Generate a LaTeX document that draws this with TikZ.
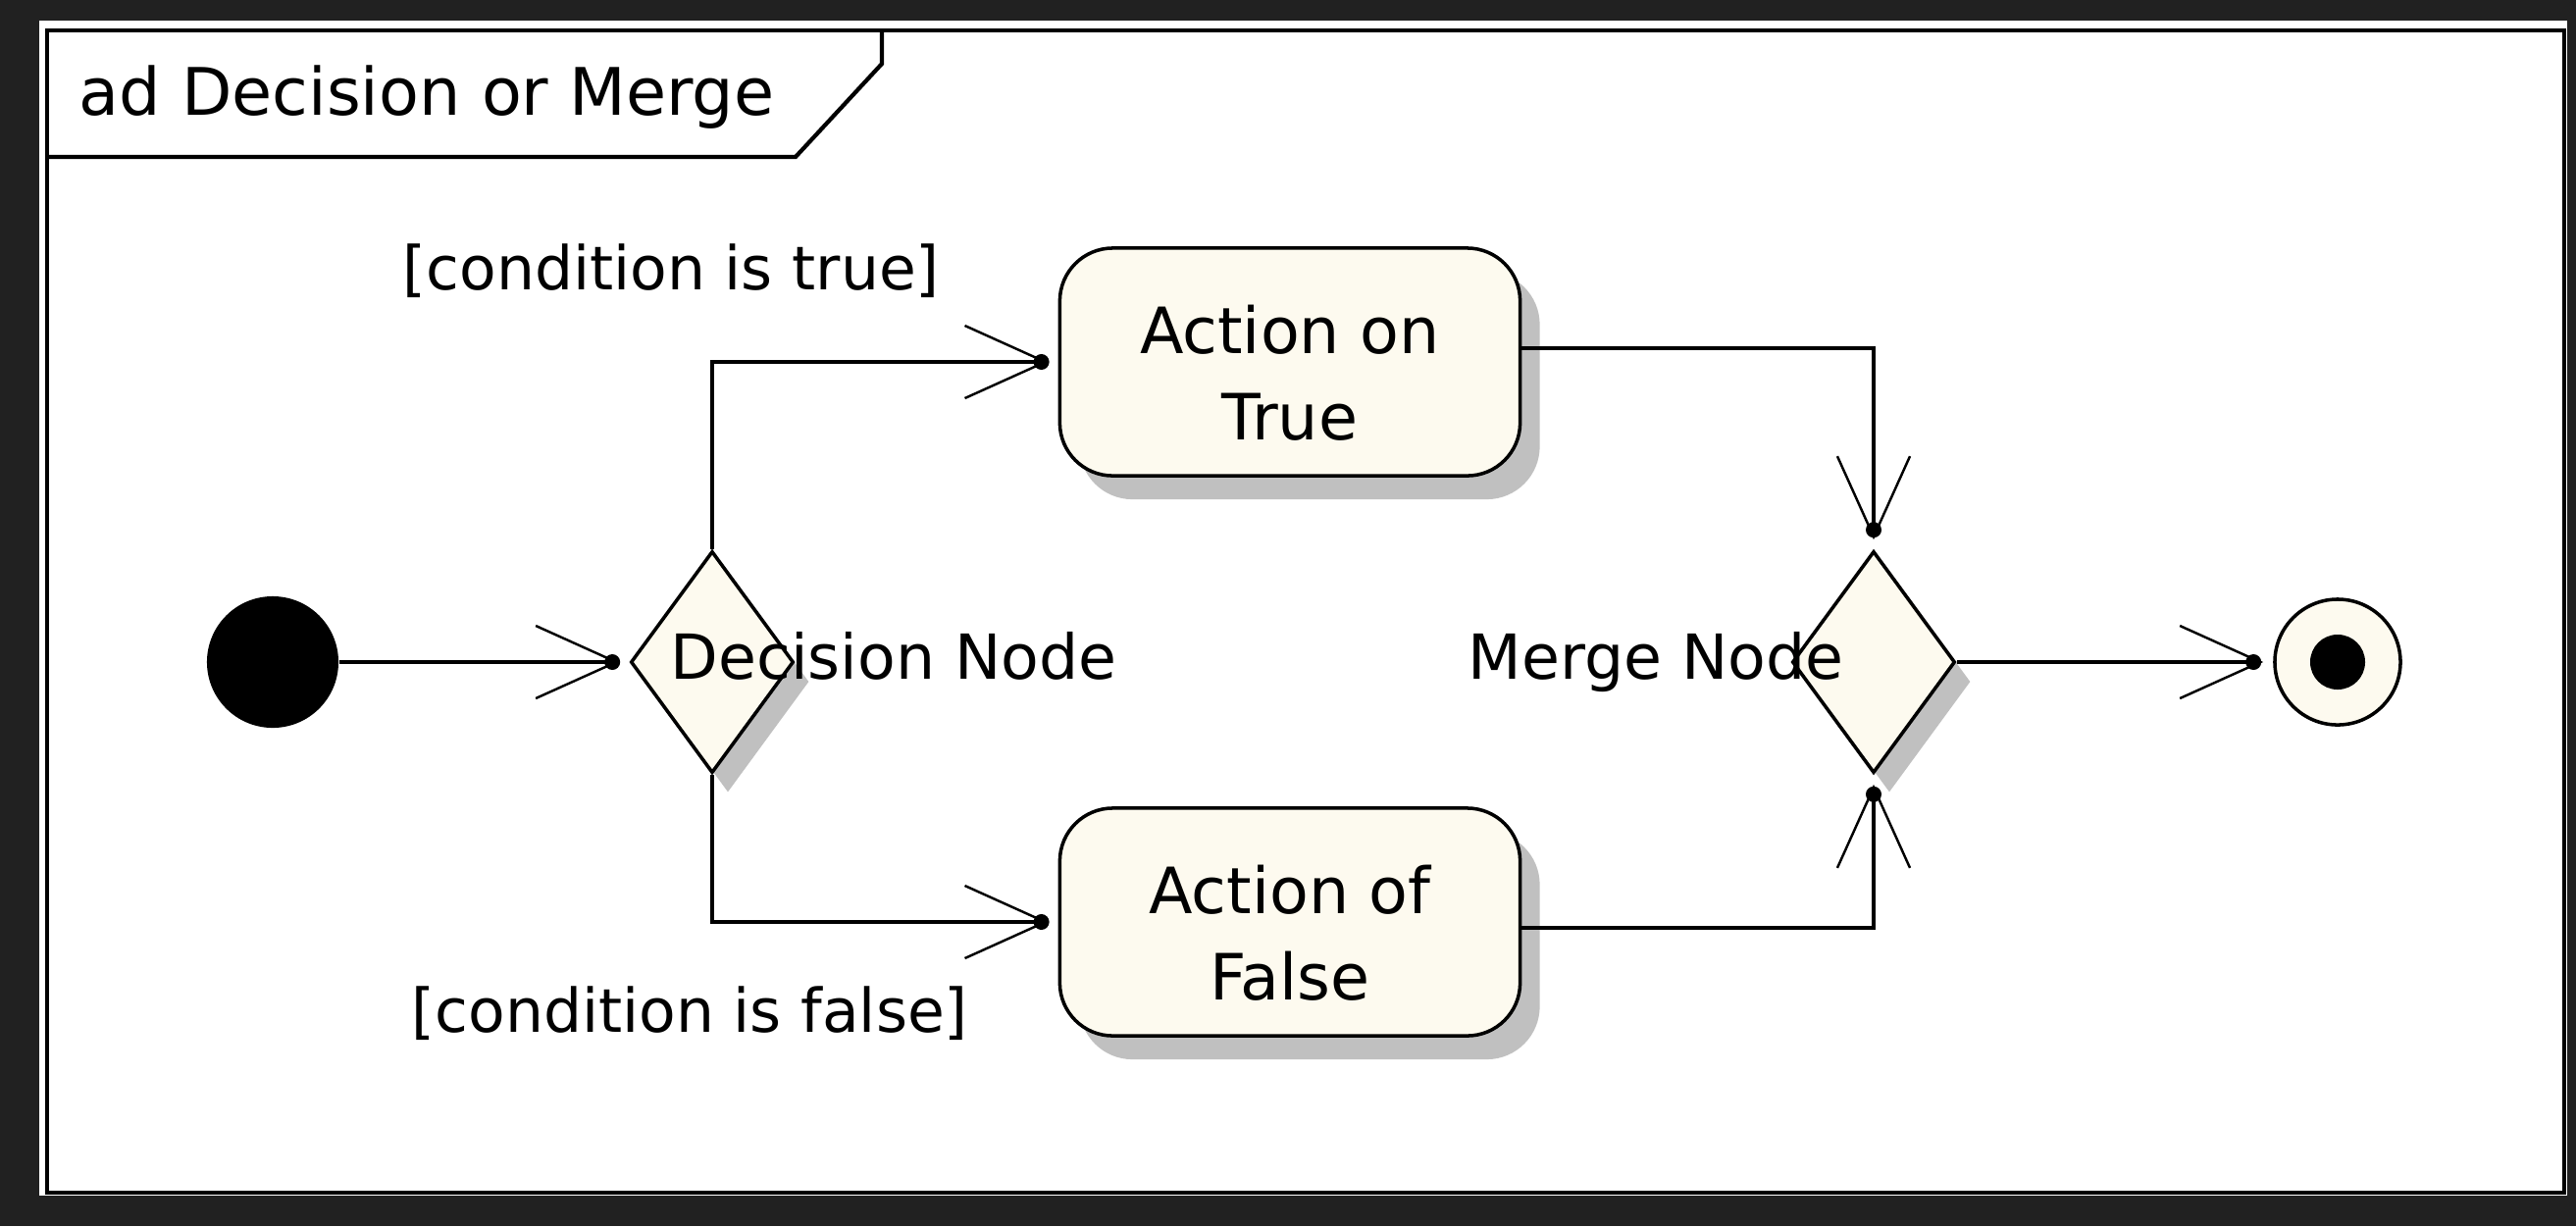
\documentclass[tikz,border=0pt]{standalone}
\usepackage{fontspec}
\setmainfont{DejaVu Sans}
\usetikzlibrary{arrows.meta,shapes.geometric,shadows,calc}
\definecolor{bgdark}{HTML}{212121}
\definecolor{cream}{HTML}{FDFAEF}
\definecolor{shade}{HTML}{C0C0C0}
\begin{document}
\begin{tikzpicture}[x=0.01cm,y=-0.01cm,
  every node/.style={font=\fontsize{18.5}{25}\selectfont},
  frameline/.style={line width=1.2pt},
  flow/.style={line width=1pt,-{Straight Barb[length=0.82cm,width=0.74cm,line width=0.7pt]},shorten >=0.1cm},
  shadowed/.style={drop shadow={shadow xshift=0.2cm,shadow yshift=-0.24cm,fill=shade,opacity=1}},
  action/.style={draw,line width=1pt,fill=cream,rounded corners=0.54cm,minimum width=4.69cm,minimum height=2.32cm,inner sep=0,shadowed},
  choice/.style={diamond,draw,line width=1pt,fill=cream,minimum width=1.66cm,minimum height=2.26cm,inner sep=0,drop shadow={shadow xshift=0.16cm,shadow yshift=-0.2cm,fill=shade,opacity=1}},
  startdot/.style={circle,fill=black,minimum size=1.34cm,inner sep=0},
  enddot/.style={circle,draw,line width=1pt,fill=cream,minimum size=1.28cm,inner sep=0},
  endcore/.style={circle,fill=black,minimum size=0.56cm,inner sep=0},
  lbl/.style={inner sep=0,anchor=base west},
  guard/.style={lbl,font=\fontsize{17.5}{22}\selectfont},
  namelbl/.style={lbl,font=\fontsize{18}{22}\selectfont},
  titlelbl/.style={lbl,font=\fontsize{19}{22}\selectfont},
  acttext/.style={inner sep=0,align=center},
  tipdot/.style={fill=black}
]
\useasboundingbox (0,0) rectangle (2626,1250);
\fill[bgdark] (0,0) rectangle (2626,1250);
\fill[white] (40,21) rectangle (2617,1219);
\draw[frameline] (48,31) rectangle (2614,1216);
\draw[frameline] (48,160) -- (811,160) -- (899,65) -- (899,31);
\node[titlelbl] (title) at (80,117) {ad Decision or Merge};

\node[startdot] (init) at (278,675) {};
\node[choice] (dec) at (726,675) {};
\node[action] (acttrue) at (1315,369) {};
\node[action] (actfalse) at (1315,940) {};
\node[choice] (merge) at (1910,675) {};
\node[enddot] (final) at (2383,675) {};
\node[endcore] (finalcore) at (final) {};

\node[acttext] (ttrue) at ($(acttrue)+(0,11)$) {Action on\\True};
\node[acttext] (tfalse) at ($(actfalse)+(0,11)$) {Action of\\False};

\node[guard] (gtrue) at (410,295) {[condition is true]};
\node[guard] (gfalse) at (419,1052) {[condition is false]};
\node[namelbl] (decl) at (683,692) {Decision Node};
\node[namelbl] (mergel) at (1496,692) {Merge Node};

\draw[flow] (init) -- (dec.west);
\draw[flow] (dec.north) |- (acttrue.west);
\draw[flow] (dec.south) |- (actfalse.west);
\draw[flow] ([yshift=0.14cm]acttrue.east) -| (merge.north);
\draw[flow] ([yshift=-0.06cm]actfalse.east) -| (merge.south);
\draw[flow] (merge.east) -- (final);

\fill[tipdot] ($(dec.west)+(-17,0)$) circle[radius=0.08cm];
\fill[tipdot] ($(acttrue.west)+(-17,0)$) circle[radius=0.08cm];
\fill[tipdot] ($(actfalse.west)+(-17,0)$) circle[radius=0.08cm];
\fill[tipdot] ($(merge.north)+(0,-20)$) circle[radius=0.08cm];
\fill[tipdot] ($(merge.south)+(0,20)$) circle[radius=0.08cm];
\fill[tipdot] ($(final.west)+(-20,0)$) circle[radius=0.08cm];
\end{tikzpicture}
\end{document}
